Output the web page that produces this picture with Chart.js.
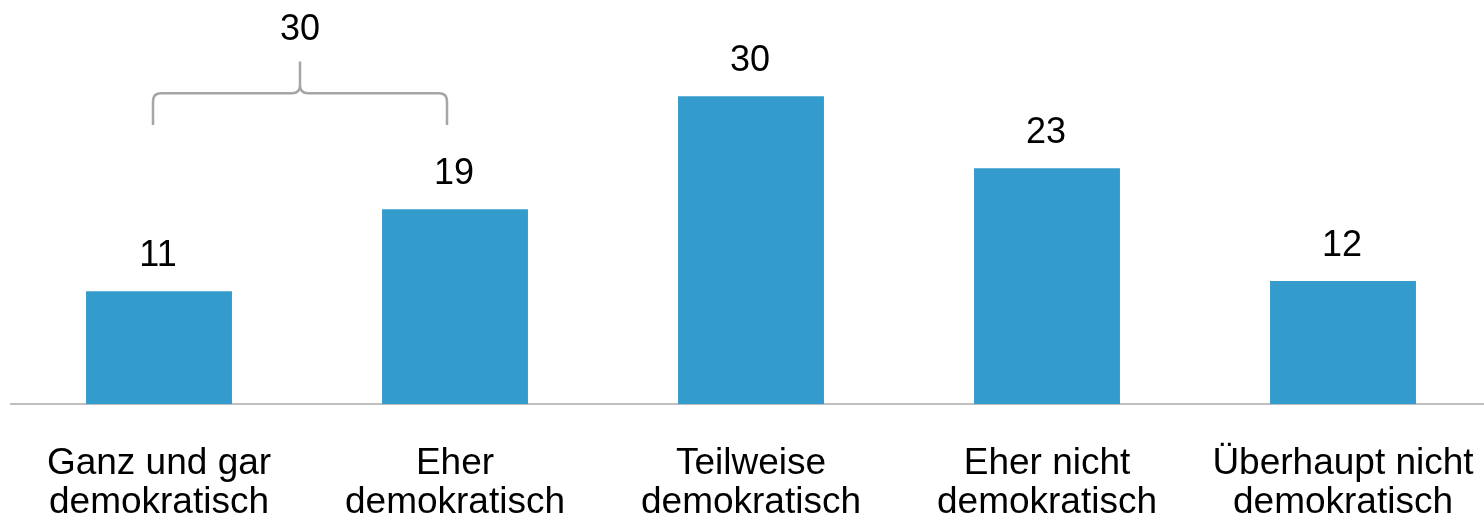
<!DOCTYPE html>
<html>
<head>
<meta charset="utf-8">
<script src="https://cdn.jsdelivr.net/npm/chart.js@4/dist/chart.umd.min.js"></script>
<style>
html,body{margin:0;padding:0;background:#fff;overflow:hidden;}
#wrap{width:1491px;height:520px;position:relative;}
</style>
</head>
<body>
<div id="wrap"><canvas id="c"></canvas></div>
<script>
const categories = [
  ['Ganz und gar', 'demokratisch'],
  ['Eher', 'demokratisch'],
  ['Teilweise', 'demokratisch'],
  ['Eher nicht', 'demokratisch'],
  ['Überhaupt nicht', 'demokratisch']
];
const values = [11, 19, 30, 23, 12];
const bracketGroup = [0, 1]; // categories summed by the bracket
const bracketTotal = values[0] + values[1];

const FONT = '"Liberation Sans", Arial, Helvetica, sans-serif';
const BAR_COLOR = '#349BCD';

const labelPlugin = {
  id: 'valueLabels',
  afterDatasetsDraw(chart) {
    const ctx = chart.ctx;
    const meta = chart.getDatasetMeta(0);
    ctx.save();
    ctx.font = '36px ' + FONT;
    ctx.fillStyle = '#000';
    ctx.textAlign = 'center';
    ctx.textBaseline = 'alphabetic';
    meta.data.forEach((bar, i) => {
      ctx.fillText(String(values[i]), bar.x - 1, bar.y - 25);
    });
    ctx.restore();
  }
};

const bracketPlugin = {
  id: 'bracket',
  afterDraw(chart) {
    const ctx = chart.ctx;
    const xs = chart.scales.x, ys = chart.scales.y;
    const x1 = xs.getPixelForValue(bracketGroup[0]) - 6;
    const x2 = xs.getPixelForValue(bracketGroup[1]) - 8;
    const xm = (x1 + x2) / 2;
    const yEnd = ys.getPixelForValue(27.2);
    const yH = ys.getPixelForValue(30.3);
    const yPeak = ys.getPixelForValue(33.4);
    const r = 8;
    ctx.save();
    ctx.strokeStyle = '#A6A6A6';
    ctx.lineWidth = 2.5;
    ctx.beginPath();
    ctx.moveTo(x1, yEnd);
    ctx.lineTo(x1, yH + r);
    ctx.quadraticCurveTo(x1, yH, x1 + r, yH);
    ctx.lineTo(xm - r, yH);
    ctx.quadraticCurveTo(xm, yH, xm, yH - r);
    ctx.lineTo(xm, yPeak);
    ctx.moveTo(xm, yH - r);
    ctx.quadraticCurveTo(xm, yH, xm + r, yH);
    ctx.lineTo(x2 - r, yH);
    ctx.quadraticCurveTo(x2, yH, x2, yH + r);
    ctx.lineTo(x2, yEnd);
    ctx.stroke();
    ctx.font = '36px ' + FONT;
    ctx.fillStyle = '#000';
    ctx.textAlign = 'center';
    ctx.textBaseline = 'alphabetic';
    ctx.fillText(String(bracketTotal), xm, ys.getPixelForValue(35.45));
    ctx.restore();
  }
};

new Chart(document.getElementById('c'), {
  type: 'bar',
  data: {
    labels: categories,
    datasets: [{
      data: values,
      backgroundColor: BAR_COLOR,
      borderWidth: 0,
      categoryPercentage: 1,
      barPercentage: 0.493
    }]
  },
  options: {
    responsive: true,
    maintainAspectRatio: false,
    animation: false,
    layout: { padding: { left: 11, right: 0, top: 0, bottom: -42 } },
    plugins: { legend: { display: false }, tooltip: { enabled: false } },
    scales: {
      x: {
        afterFit(scale) { scale.paddingLeft = 0; scale.paddingRight = 0; },
        grid: { display: false, drawTicks: false },
        border: { display: true, color: '#BFBFBF', width: 2 },
        ticks: {
          color: '#000',
          padding: 40,
          maxRotation: 0,
          autoSkip: false,
          font: { family: FONT, size: 37, lineHeight: 1.05 }
        }
      },
      y: {
        display: false,
        min: 0,
        max: 39.38,
        grid: { display: false }
      }
    }
  },
  plugins: [labelPlugin, bracketPlugin]
});
</script>
</body>
</html>
